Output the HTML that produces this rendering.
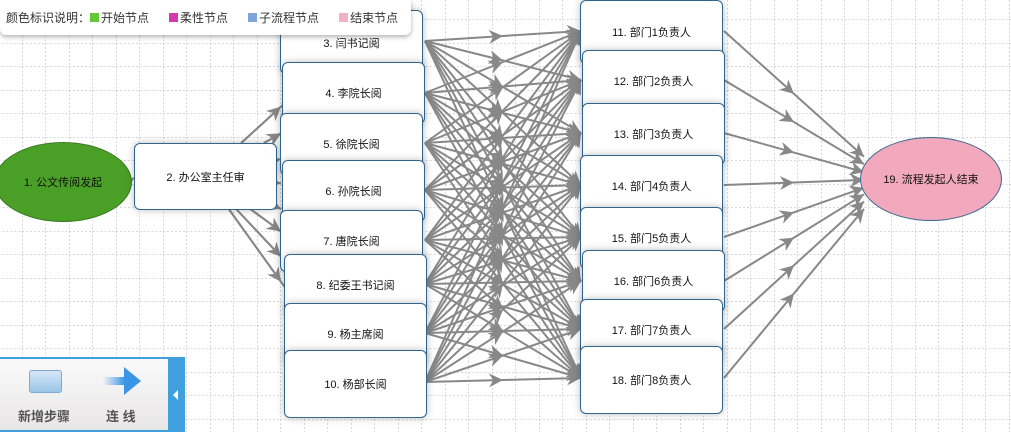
<!DOCTYPE html>
<html><head><meta charset="utf-8"><style>
body{margin:0;width:1011px;height:432px;overflow:hidden;position:relative;background:#fff;font-family:"Liberation Sans","Noto Sans CJK SC",sans-serif;}
.box{position:absolute;background:#fff;border:1px solid #2f6690;border-radius:6px;width:141px;height:60px;box-shadow:0 0 8px rgba(0,0,0,.25);font-size:11px;color:#111;display:flex;align-items:center;justify-content:center;}
.ell{position:absolute;border:1px solid #3c6a8e;border-radius:50%;display:flex;align-items:center;justify-content:center;font-size:11px;color:#111;}
svg{position:absolute;left:0;top:0}
</style></head><body>
<svg width="1011" height="432">
<defs><pattern id="g" width="23.5" height="23.5" patternUnits="userSpaceOnUse" x="-1.5" y="-4"><path d="M0 0V23.5M0 0H23.5" stroke="#b0b0b0" stroke-dasharray="2 2" fill="none"/></pattern>
<marker id="b" viewBox="0 0 10 10" refX="10" refY="5" markerWidth="18" markerHeight="14" orient="auto" markerUnits="userSpaceOnUse"><path d="M0 0L10 5L0 10L3 5z" fill="#888"/></marker></defs>
<rect width="1011" height="432" fill="url(#g)"/>
<g id="L" stroke="#888" stroke-width="2" fill="none"></g>
</svg>
<script>
var L=document.getElementById('L'),s='';
function ln(x1,y1,x2,y2,mid){var mx=(x1+x2)/2,my=(y1+y2)/2;s+='<polyline points="'+x1+','+y1+' '+mx+','+my+' '+x2+','+y2+'" '+(mid?'marker-mid="url(#b)" ':'')+'marker-end="url(#b)"/>';}
var Ly=[41,93,143,190,240,284,333,382],Ry=[31,80,133,185,237,281,329,378];
ln(130,181,134,178,false);
Ly.forEach(function(y){var cx=205,cy=176,tx=353,t=(276-cx)/(tx-cx);
 var sx=276,sy=cy+(y-cy)*t;
 if(Math.abs(y-cy)*t>33){t=33/Math.abs(y-cy);sx=cx+(tx-cx)*t;sy=cy+33*Math.sign(y-cy);}
 var t2=(281-cx)/(tx-cx),ex=281,ey=cy+(y-cy)*t2;
 var k=Math.max(0.5,Math.min(1,31/Math.max(1,Math.abs(y-cy))));
 ln(sx,sy,ex,ey,false);
 if(Math.abs(y-cy)>40){var t3=(y>cy?(y-31-cy):(y+31-cy))/(y-cy);ln(sx,sy,cx+(tx-cx)*t3,cy+(y-cy)*t3,false);}
});
Ly.forEach(function(a){Ry.forEach(function(b){ln(425,a,581,b,true)})});
Ry.forEach(function(b){var dy=179-b;ln(724,b,864,179-dy*0.15,true)});
L.innerHTML=s;
</script>
<div class="ell" style="left:-6px;top:142px;width:136px;height:78px;background:#4a9f27;border-color:#3c7a22">1. 公文传阅发起</div>
<div class="box" style="left:134px;top:143px;height:65px">2. 办公室主任审</div>
<div class="box" style="left:280px;top:10px;height:62px"><span style="margin-top:2px">3. 闫书记阅</span></div>
<div class="box" style="left:282px;top:62px">4. 李院长阅</div>
<div class="box" style="left:280px;top:113px">5. 徐院长阅</div>
<div class="box" style="left:282px;top:160px">6. 孙院长阅</div>
<div class="box" style="left:280px;top:210px">7. 唐院长阅</div>
<div class="box" style="left:284px;top:254px">8. 纪委王书记阅</div>
<div class="box" style="left:284px;top:303px">9. 杨主席阅</div>
<div class="box" style="left:284px;top:350px;height:66px">10. 杨部长阅</div>
<div class="box" style="left:580px;top:0px;height:62px">11. 部门1负责人</div>
<div class="box" style="left:582px;top:50px">12. 部门2负责人</div>
<div class="box" style="left:582px;top:103px">13. 部门3负责人</div>
<div class="box" style="left:580px;top:155px">14. 部门4负责人</div>
<div class="box" style="left:580px;top:207px">15. 部门5负责人</div>
<div class="box" style="left:582px;top:250px">16. 部门6负责人</div>
<div class="box" style="left:580px;top:299px">17. 部门7负责人</div>
<div class="box" style="left:580px;top:346px;height:66px">18. 部门8负责人</div>
<div class="ell" style="left:860px;top:137px;width:140px;height:82px;background:#f2a8bd">19. 流程发起人结束</div>
<div style="position:absolute;left:0;top:0;width:411px;height:35px;background:#fff;border-radius:0 0 6px 6px;box-shadow:0 2px 5px rgba(0,0,0,.3);font-size:12px;color:#333;display:flex;align-items:center;padding-left:6px;box-sizing:border-box;white-space:nowrap">
颜色标识说明：<span style="display:inline-block;width:9px;height:9px;background:#62c935;margin-right:2px"></span>开始节点
<span style="display:inline-block;width:9px;height:9px;background:#d33aaf;margin:0 2px 0 20px"></span>柔性节点
<span style="display:inline-block;width:9px;height:9px;background:#7ea5da;margin:0 2px 0 20px"></span>子流程节点
<span style="display:inline-block;width:9px;height:9px;background:#f2b0c3;margin:0 2px 0 20px"></span>结束节点</div>
<div style="position:absolute;left:0;top:357px;width:185px;height:75px;background:#3fa0dd">
<div style="position:absolute;left:0;top:2px;width:168px;height:71px;background:linear-gradient(#fafafa,#e8e6e6)"></div>
<div style="position:absolute;left:29px;top:13px;width:31px;height:21px;border:1px solid #7fa9d0;border-radius:3px;background:linear-gradient(#d5e7f7,#9cc4e8)"></div>
<div style="position:absolute;left:103px;top:20px;width:22px;height:8px;background:linear-gradient(to right,rgba(60,150,230,0),#3b95e6)"></div>
<div style="position:absolute;left:124px;top:10px;width:0;height:0;border-left:17px solid #3b95e6;border-top:14px solid transparent;border-bottom:14px solid transparent"></div>
<div style="position:absolute;left:18px;top:49px;font-size:13px;font-weight:bold;color:#555">新增步骤</div>
<div style="position:absolute;left:106px;top:49px;font-size:13px;font-weight:bold;color:#555">连 线</div>
<div style="position:absolute;left:173px;top:33px;width:0;height:0;border-right:5px solid #fff;border-top:5px solid transparent;border-bottom:5px solid transparent"></div>
</div>
</body></html>
